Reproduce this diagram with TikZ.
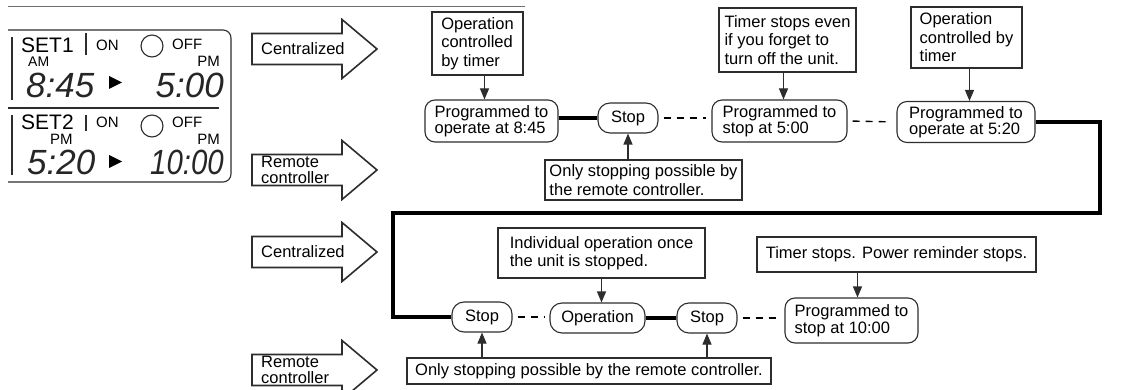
\documentclass[tikz,border=0pt]{standalone}
\usepackage{fontspec}
\usepackage{graphicx}
\setmainfont{Liberation Sans}
\usetikzlibrary{arrows.meta, positioning, calc}
\definecolor{linegray}{RGB}{45, 45, 45}
\definecolor{rulegray}{RGB}{110, 110, 110}

\begin{document}
\begin{tikzpicture}[
  x=1pt, y=-1pt,
  font=\fontsize{16.5}{18.5}\selectfont,
  boxsize/.style 2 args={minimum width=#1pt, minimum height=#2pt},
  prog/.style={rectangle, rounded corners=10pt, draw=linegray, line width=1.1pt,
               align=left, inner sep=0pt, font=\fontsize{16.5}{16.5}\selectfont},
  note/.style={rectangle, draw=linegray, line width=1.1pt, align=left, inner sep=0pt},
  arr/.style={-{Triangle[length=11pt, width=9pt]}, line width=1.1pt, linegray},
  heavy/.style={line width=4pt, black, line join=miter},
  dashlink/.style={line width=1.4pt, black, dash pattern=on 7pt off 6pt,
                   shorten <=5pt, shorten >=5pt},
  bigarrow/.style={draw=linegray, line width=1.6pt, fill=white, line join=miter},
  panel/.style={draw=linegray, line width=1.1pt},
  lbl/.style={inner sep=0pt, font=\fontsize{15}{15}\selectfont},
  lcd/.style={inner sep=0pt, text=black!85, font=\fontsize{35}{35}\selectfont\itshape}
]
  \useasboundingbox (0,0) rectangle (1124,390);
  \clip (0,0) rectangle (1124,390);

  % timer panel
  \draw[rulegray, line width=1pt] (8,7) -- (525,7);
  \draw[panel, rounded corners=8pt] (8,30) -- (231,30) -- (231,182) -- (8,182);
  \draw[panel] (8,108) -- (219,108);
  \draw[panel] (12,37) -- (12,100) (12,115) -- (12,175);
  \draw[panel] (86,33) -- (86,55) (86,115) -- (86,131);
  \draw[panel] (152,46) circle (11) (152,126) circle (11);
  \fill[black] (109,76) -- (122,82.5) -- (109,89) -- cycle;
  \fill[black] (109,155) -- (122,161.5) -- (109,168) -- cycle;

  \node[lbl, anchor=base west, font=\fontsize{21}{21}\selectfont] (set1) at (21,53) {SET1};
  \node[lbl, anchor=base west] (on1) at (96,51) {ON};
  \node[lbl, anchor=base west] (off1) at (172,50) {OFF};
  \node[lbl, anchor=base west, font=\fontsize{14}{14}\selectfont] (am1) at (28,67) {AM};
  \node[lbl, anchor=base east] (pm1) at (220,67) {PM};
  \node[lcd, anchor=base west] (on1time) at (26,98) {8:45};
  \node[lcd, anchor=base east] (off1time) at (224,98) {5:00};

  \node[lbl, anchor=base west, font=\fontsize{21}{21}\selectfont] (set2) at (21,130) {SET2};
  \node[lbl, anchor=base west] (on2) at (96,128) {ON};
  \node[lbl, anchor=base west] (off2) at (172,128) {OFF};
  \node[lbl, anchor=base west] (pm2a) at (50,145) {PM};
  \node[lbl, anchor=base east] (pm2b) at (220,145) {PM};
  \node[lcd, anchor=base west] (on2time) at (27,175) {5:20};
  \node[lcd, anchor=base east] (off2time) at (224,175) {\scalebox{0.84}[1]{10:00}};

  % mode arrows
  \foreach \cy/\txt/\nm in {49/Centralized/cen1, 170/{Remote\\controller}/rem1,
                            252/Centralized/cen2, 370/{Remote\\controller}/rem2} {
    \draw[bigarrow] (252,\cy-15.5) -- (342,\cy-15.5) -- (342,\cy-29.5) -- (377,\cy)
      -- (342,\cy+29.5) -- (342,\cy+15.5) -- (252,\cy+15.5) -- cycle;
    \node[anchor=west, align=left, inner sep=0pt,
          font=\fontsize{16.5}{15.5}\selectfont] (\nm) at (261,\cy) {\txt};
  }

  % first row
  \node[prog, boxsize={133}{42}] (prog1) at (491.5,121) {Programmed to\\operate at 8:45};
  \node[prog, boxsize={60}{30}, rounded corners=12pt] (stop1) at (628,118) {Stop};
  \node[prog, boxsize={135}{42}] (prog2) at (779.5,121) {Programmed to\\stop at 5:00};
  \node[prog, boxsize={138}{41}] (prog3) at (966,122) {Programmed to\\operate at 5:20};

  \node[note, boxsize={91}{63}] (ann1) at (477.5,43.5) {Operation\\controlled\\by timer};
  \node[note, boxsize={137}{64}] (ann2) at (787.5,40) {Timer stops even\\if you forget to\\turn off the unit.};
  \node[note, boxsize={111}{61}] (ann3) at (966.5,37.5) {Operation\\controlled by\\timer};
  \node[note, boxsize={197}{40}] (ann4) at (643.5,180) {Only stopping possible by\\the remote controller.};

  % second row
  \node[prog, boxsize={60}{30}, rounded corners=12pt] (stop2) at (482,317) {Stop};
  \node[prog, boxsize={95}{30}, rounded corners=12pt] (oper) at (597.5,318) {Operation};
  \node[prog, boxsize={60}{30}, rounded corners=12pt] (stop3) at (707,318) {Stop};
  \node[prog, boxsize={133}{45}] (prog4) at (851.5,320.5) {Programmed to\\stop at 10:00};

  \node[note, boxsize={207}{50}] (ann5) at (601.5,253) {Individual operation once\\the unit is stopped.};
  \node[note, boxsize={279}{35}] (ann6) at (896.5,254.5) {Timer stops. Power reminder stops.};
  \node[note, boxsize={364}{26}] (ann7) at (589,371) {Only stopping possible by the remote controller.};

  % links
  \coordinate (turnR) at (1100,213);
  \coordinate (turnL) at (393,213);
  \draw[heavy] (stop1.west -| prog1.east) -- (stop1.west);
  \draw[heavy] (prog3.east) -| (turnR) -- (turnL) |- (stop2.west);
  \draw[heavy] (oper.east) -- (stop3.west);
  \draw[dashlink] (stop1.east) -- (stop1.east -| prog2.west);
  \draw[dashlink] (prog2.east) -- (prog3.west);
  \draw[dashlink] (stop2.east) -- (stop2.east -| oper.west);
  \draw[dashlink] (stop3.east) -- (stop3.east -| prog4.west);

  \draw[arr] ([xshift=7pt]ann1.south) -- ([xshift=7pt]ann1.south |- prog1.north);
  \draw[arr] ([xshift=-4pt]ann2.south) -- ([xshift=-4pt]ann2.south |- prog2.north);
  \draw[arr] ([xshift=3pt]ann3.south) -- ([xshift=3pt]ann3.south |- prog3.north);
  \draw[arr] (stop1.south |- ann4.north) -- (stop1.south);
  \draw[arr] (ann5.south) -- (ann5.south |- oper.north);
  \draw[arr] ([xshift=6pt]prog4.north |- ann6.south) -- ([xshift=6pt]prog4.north);
  \draw[arr] (stop2.south |- ann7.north) -- (stop2.south);
  \draw[arr] (stop3.south |- ann7.north) -- (stop3.south);
\end{tikzpicture}
\end{document}
